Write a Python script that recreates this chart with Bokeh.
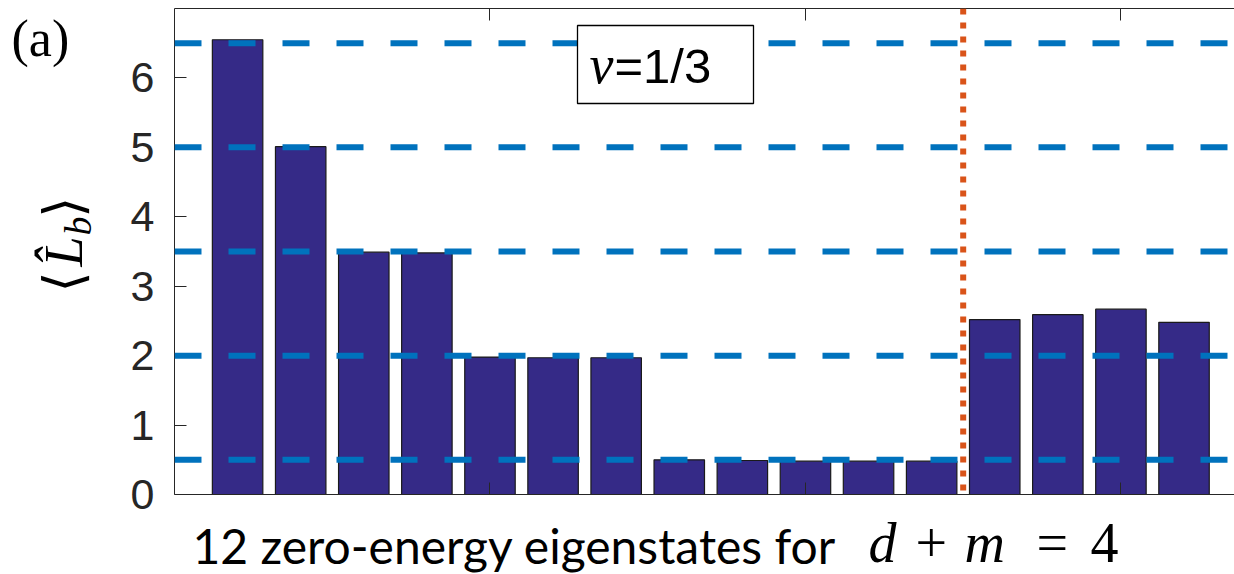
import math

from bokeh.embed import file_html
from bokeh.layouts import column, row
from bokeh.models import (BoxAnnotation, ColumnDataSource, FixedTicker, Label,
                          LinearAxis, Range1d, Span)
from bokeh.plotting import figure
from bokeh.resources import INLINE

# Expectation value <L_b> for each zero-energy eigenstate
states = list(range(1, 17))
lb_values = [6.55, 5.01, 3.49, 3.48, 1.98, 1.97, 1.97, 0.50, 0.49, 0.48,
             0.48, 0.48, 2.52, 2.59, 2.67, 2.48]
# Reference plateaus and the separator between the two groups of states
plateau_levels = [0.5, 2.0, 3.5, 5.0, 6.5]
separator_x = 12.5
y_ticks = [0, 1, 2, 3, 4, 5, 6]
x_ticks = [5, 10, 15]

W, H = 1234, 574
SIDE_W = 110            # strip holding the panel tag and the y label
FRAME_LEFT = 174        # page column of the axes' left edge
FRAME_TOP = 8
FRAME_BOTTOM = 494
MAIN_H = 520            # bars figure height (frame + room for the "0" label)
CAPTION_H = H - MAIN_H
X_END, Y_END = 16.8, 7.0
UX = (W - FRAME_LEFT) / X_END
UY = (FRAME_BOTTOM - FRAME_TOP) / Y_END
# labels anchored "alphabetic" land this fraction of an em below the anchor
BASELINE_FIX = 0.35


def dx(px):
    """page column -> data x of the bars figure"""
    return (px - FRAME_LEFT) / UX


def dy(py):
    """page row -> data y of the bars figure"""
    return (FRAME_BOTTOM - py) / UY


AXIS_COLOR = "#262626"
BAR_COLOR = "#352A87"
LINE_BLUE = "#0072BD"
LINE_ORANGE = "#D95319"


def blank_fig(width, height, y_top, y_bottom):
    """figure whose frame fills it, with page-pixel coordinates"""
    f = figure(width=width, height=height, output_backend="svg",
               toolbar_location=None, title_location=None,
               x_axis_location=None, y_axis_location=None,
               x_range=Range1d(0, width), y_range=Range1d(y_bottom, y_top),
               min_border_left=0, min_border_right=0, min_border_top=0,
               min_border_bottom=0)
    f.outline_line_color = None
    f.grid.visible = False
    f.background_fill_color = "white"
    f.border_fill_color = "white"
    return f


def text_label(x, y, text, font, size, style="normal", angle=0.0):
    return Label(x=x, y=y, text=text, text_font=font, text_font_style=style,
                 text_font_size=f"{size}px", angle=angle, text_color="black",
                 text_baseline="alphabetic")


# ---------------- bars figure ----------------
p = figure(width=W - SIDE_W, height=MAIN_H, output_backend="svg",
           toolbar_location=None, title_location=None,
           x_range=Range1d(0, X_END), y_range=Range1d(0, Y_END),
           min_border_left=FRAME_LEFT - SIDE_W, min_border_right=0,
           min_border_top=FRAME_TOP, min_border_bottom=MAIN_H - FRAME_BOTTOM)
p.outline_line_color = None
p.grid.visible = False
p.background_fill_color = "white"
p.border_fill_color = "white"


def style_x_axis(ax):
    ax.ticker = FixedTicker(ticks=x_ticks)
    ax.major_label_overrides = {t: "" for t in x_ticks}
    ax.major_label_text_font_size = "1px"
    ax.major_label_standoff = 0
    ax.major_tick_in = 12
    ax.major_tick_out = 0
    ax.minor_tick_line_color = None
    ax.axis_line_color = AXIS_COLOR
    ax.major_tick_line_color = AXIS_COLOR


style_x_axis(p.xaxis[0])
top_axis = LinearAxis()
style_x_axis(top_axis)
p.add_layout(top_axis, "above")

ya = p.yaxis[0]
ya.ticker = FixedTicker(ticks=y_ticks)
ya.major_tick_in = 12
ya.major_tick_out = 0
ya.minor_tick_line_color = None
ya.axis_line_color = AXIS_COLOR
ya.major_tick_line_color = AXIS_COLOR
ya.major_label_text_font = "Liberation Sans"
ya.major_label_text_font_size = "43px"
ya.major_label_text_color = AXIS_COLOR
ya.major_label_standoff = 20

src = ColumnDataSource(dict(state=states, lb=lb_values))
p.vbar(x="state", top="lb", width=0.8, source=src, fill_color=BAR_COLOR,
       line_color="#1a1a1a", line_width=1.2)

for level in plateau_levels:
    p.add_layout(Span(location=level, dimension="width", line_color=LINE_BLUE,
                      line_width=6, line_dash="27 27"))

p.add_layout(Span(location=separator_x, dimension="height", line_color=LINE_ORANGE,
                  line_width=6, line_dash="6 8"))

# nu = 1/3 legend box
p.add_layout(BoxAnnotation(left=dx(577), right=dx(753), top=dy(25), bottom=dy(103),
                           fill_color="white", fill_alpha=1.0,
                           line_color="black", line_alpha=1.0, line_width=1.3))
NU_BASE = 83
p.add_layout(text_label(dx(589), dy(NU_BASE - BASELINE_FIX * 54), "ν",
                        "Liberation Serif", 54, "italic"))
p.add_layout(text_label(dx(614), dy(NU_BASE - BASELINE_FIX * 49), "=1/3",
                        "Liberation Sans", 49))

# ---------------- left strip: tag and y label ----------------
side = blank_fig(SIDE_W, MAIN_H, 0, MAIN_H)
side.add_layout(text_label(11, 50 - BASELINE_FIX * 52, "(a)", "Liberation Serif", 52))

ROT = math.pi / 2
YL_BASE = 82
ylabel_parts = [("⟨", YL_BASE, 304, "DejaVu Serif", "normal", 54),
                ("L̂", YL_BASE, 276, "Liberation Serif", "italic", 54),
                ("b", YL_BASE + 9, 243, "Liberation Serif", "italic", 38),
                ("⟩", YL_BASE, 224, "DejaVu Serif", "normal", 54)]
for txt, px, py, font, style, size in ylabel_parts:
    side.add_layout(text_label(px - BASELINE_FIX * size, py, txt, font, size,
                               style, ROT))

# ---------------- caption strip ----------------
CAP_BASE = 562
cap = blank_fig(W, CAPTION_H, MAIN_H, H)
cap.add_layout(text_label(192, CAP_BASE - BASELINE_FIX * 48,
                          "12 zero-energy eigenstates for", "Lato", 48))
caption_math = [("d", 868, "italic"), ("+", 915, "normal"), ("m", 964, "italic"),
                ("=", 1036, "normal"), ("4", 1090, "normal")]
for txt, px, style in caption_math:
    cap.add_layout(text_label(px, CAP_BASE - BASELINE_FIX * 56, txt,
                              "Liberation Serif", 56, style))

layout = column(row(side, p, spacing=0), cap, spacing=0)
open("out.html", "w").write(file_html(layout, INLINE))
